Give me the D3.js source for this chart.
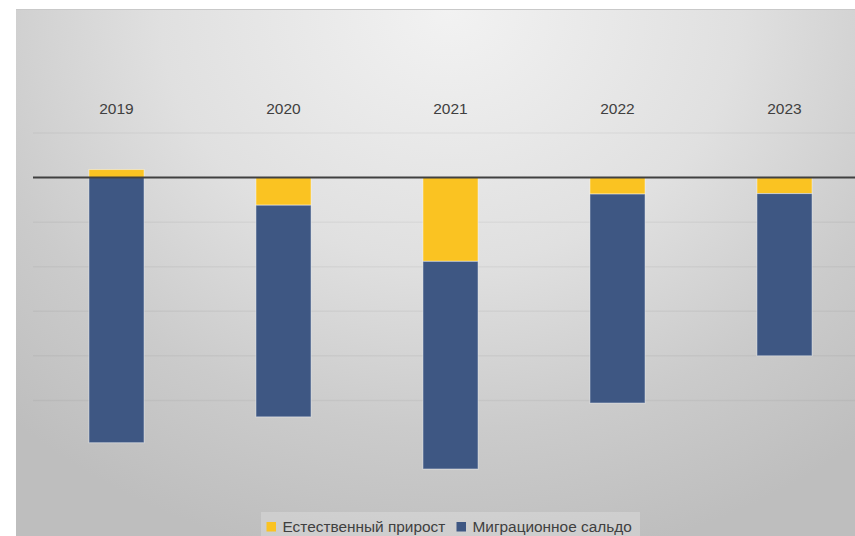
<!DOCTYPE html>
<html>
<head>
<meta charset="utf-8">
<script src="https://d3js.org/d3.v7.min.js"></script>
<style>
  body { margin: 0; background: #fff; }
  svg { display: block; }
</style>
</head>
<body>
<svg></svg>
<script>
    // Data (people; gridline step = 1000)
    var years = ['2019', '2020', '2021', '2022', '2023'];
    var natural = [180, -620, -1880, -370, -360];      // Естественный прирост
    var migration = [-5950, -4750, -4660, -4690, -3640]; // Миграционное сальдо
    var seriesNames = ['Естественный прирост', 'Миграционное сальдо'];
    var seriesColors = ['#FAC322', '#3E5783'];

    var vWidth = 855, vHeight = 536;
    var svg = d3.select('svg').attr('width', vWidth).attr('height', vHeight);

    // Background: light radial gradient from the top centre
    var defs = svg.append('defs');
    var grad = defs.append('radialGradient')
        .attr('id', 'bg')
        .attr('gradientUnits', 'userSpaceOnUse')
        .attr('cx', 450).attr('cy', 10).attr('r', 560)
        .attr('gradientTransform', 'translate(450,10) scale(1.15,1) translate(-450,-10)');
    grad.append('stop').attr('offset', 0).attr('stop-color', '#F2F2F2');
    grad.append('stop').attr('offset', 0.45).attr('stop-color', '#E0E0E0');
    grad.append('stop').attr('offset', 0.75).attr('stop-color', '#CBCBCB');
    grad.append('stop').attr('offset', 1).attr('stop-color', '#BEBEBE');

    svg.append('rect')
        .attr('x', 16).attr('y', 9)
        .attr('width', vWidth - 16).attr('height', vHeight - 9)
        .attr('fill', 'url(#bg)');
    svg.append('line')
        .attr('x1', 16).attr('x2', vWidth).attr('y1', 9.5).attr('y2', 9.5)
        .attr('stroke', '#C9C9C9');

    // Scales
    var x = d3.scaleBand().domain(years).range([33, 868])
        .paddingInner(0.67).paddingOuter(0.335);
    var y = d3.scaleLinear().domain([-7000, 1000]).range([489.5, 133]);

    // Gridlines (the lowest ones vanish into the darker background)
    svg.append('g')
        .selectAll('line')
        .data(y.ticks(8).filter(function (d) { return d !== 0 && d >= -5000; }))
        .enter().append('line')
        .attr('x1', 33).attr('x2', vWidth)
        .attr('y1', function (d) { return y(d); })
        .attr('y2', function (d) { return y(d); })
        .attr('stroke', 'rgba(0,0,0,0.04)')
        .attr('stroke-width', 1.5);

    // Stacked bars (positive up, negative down)
    var rows = years.map(function (yr, i) {
        return { year: yr, natural: natural[i], migration: migration[i] };
    });
    var stack = d3.stack().keys(['natural', 'migration']).offset(d3.stackOffsetDiverging);
    var layers = stack(rows);

    svg.append('g')
        .selectAll('g')
        .data(layers)
        .enter().append('g')
        .attr('fill', function (d, i) { return seriesColors[i]; })
        .selectAll('rect')
        .data(function (d) { return d; })
        .enter().append('rect')
        .attr('x', function (d) { return x(d.data.year); })
        .attr('width', x.bandwidth())
        .attr('y', function (d) { return y(Math.max(d[0], d[1])); })
        .attr('height', function (d) { return Math.abs(y(d[0]) - y(d[1])); })
        .attr('stroke', 'rgba(255,255,255,0.45)')
        .attr('stroke-width', 1);

    // Zero line
    svg.append('line')
        .attr('x1', 33).attr('x2', vWidth)
        .attr('y1', y(0)).attr('y2', y(0))
        .attr('stroke', '#404040')
        .attr('stroke-width', 2);

    // Category labels placed high
    svg.append('g')
        .selectAll('text')
        .data(years)
        .enter().append('text')
        .attr('x', function (d) { return x(d) + x.bandwidth() / 2; })
        .attr('y', 114)
        .attr('text-anchor', 'middle')
        .attr('font-family', 'Liberation Sans, Arial, sans-serif')
        .attr('font-size', 15.5)
        .attr('fill', '#404040')
        .text(function (d) { return d; });

    // Legend
    var legend = svg.append('g');
    legend.append('rect')
        .attr('x', 261).attr('y', 512)
        .attr('width', 379).attr('height', 30)
        .attr('fill', 'rgba(255,255,255,0.22)');
    var legendX = [266.5, 456.5];
    seriesNames.forEach(function (name, i) {
        legend.append('rect')
            .attr('x', legendX[i]).attr('y', 522)
            .attr('width', 9.5).attr('height', 9.5)
            .attr('fill', seriesColors[i]);
        legend.append('text')
            .attr('x', legendX[i] + 16).attr('y', 532)
            .attr('font-family', 'Liberation Sans, Arial, sans-serif')
            .attr('font-size', 15.4)
            .attr('fill', '#404040')
            .text(name);
    });
</script>
</body>
</html>
